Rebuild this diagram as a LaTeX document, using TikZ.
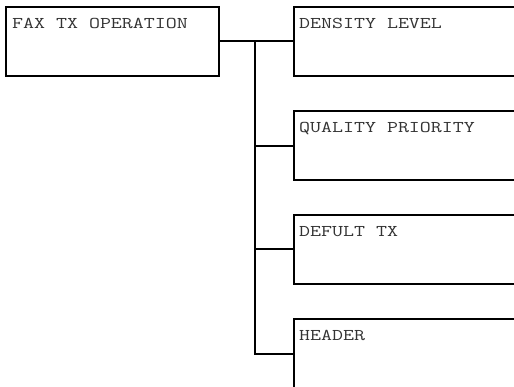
\documentclass[tikz,border=0pt]{standalone}
\usepackage{fontspec}
\newfontfamily\menufont[FakeStretch=1.3]{Latin Modern Mono}
\tikzset{
  box/.style={draw=black, line width=2pt, rectangle, anchor=north west, inner sep=0pt, minimum height=69pt},
  txt/.style={anchor=base west, inner sep=0pt, font=\menufont\fontsize{16.4}{18}\selectfont, text=black!80},
  conn/.style={draw=black, line width=2pt}
}
\begin{document}
\begin{tikzpicture}[x=1pt,y=1pt]
\useasboundingbox (0,0) rectangle (514,-387);
\clip (0,0) rectangle (514,-387);
\node[box, minimum width=213pt] (fax) at (5,-6) {};
\node[box, minimum width=260pt] (dens) at (293,-6) {};
\node[box, minimum width=260pt] (qual) at (293,-110.5) {};
\node[box, minimum width=260pt] (defu) at (293,-214) {};
\node[box, minimum width=260pt] (head) at (293,-318) {};
\node[txt] (faxt) at ([xshift=7pt,yshift=-22.3pt]fax.north west) {FAX TX OPERATION};
\node[txt] (denst) at ([xshift=6pt,yshift=-22.3pt]dens.north west) {DENSITY LEVEL};
\node[txt] (qualt) at ([xshift=6pt,yshift=-22.3pt]qual.north west) {QUALITY PRIORITY};
\node[txt] (defut) at ([xshift=6pt,yshift=-22.3pt]defu.north west) {DEFULT TX};
\node[txt] (headt) at ([xshift=6pt,yshift=-22.3pt]head.north west) {HEADER};
\coordinate (j) at (255,0);
\draw[conn] (fax.east) -- (dens.west);
\draw[conn] (j |- fax.east) -- (j |- head.west) -- (head.west);
\draw[conn] (j |- qual.west) -- (qual.west);
\draw[conn] (j |- defu.west) -- (defu.west);
\end{tikzpicture}
\end{document}
